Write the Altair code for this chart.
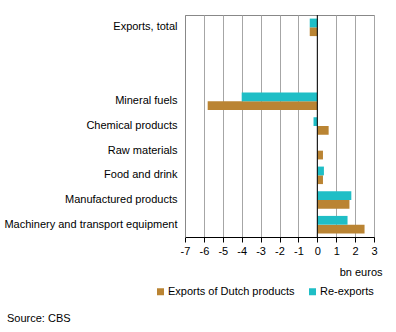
import altair as alt
import pandas as pd

categories = ["Exports, total", "_b1", "_b2", "Mineral fuels", "Chemical products",
              "Raw materials", "Food and drink", "Manufactured products",
              "Machinery and transport equipment"]
dutch = [-0.4, None, None, -5.8, 0.6, 0.3, 0.3, 1.7, 2.5]
reexports = [-0.4, None, None, -4.0, -0.2, 0.0, 0.35, 1.8, 1.6]
series = ["Exports of Dutch products", "Re-exports"]
colors = ["#BA8433", "#1FBEC6"]
ticks = [-7, -6, -5, -4, -3, -2, -1, 0, 1, 2, 3]

rows = []
for c, d, r in zip(categories, dutch, reexports):
    if d is not None:
        rows.append({"cat": c, "series": series[0], "value": d})
    if r is not None:
        rows.append({"cat": c, "series": series[1], "value": r})
df = pd.DataFrame(rows)

FONT = "Liberation Sans"

xscale = alt.Scale(domain=[-7, 3], nice=False, zero=False)
xaxis = alt.Axis(values=ticks, tickCount=11, labelExpr="'' + datum.value", labelOverlap=False,
                 labelFlush=False, grid=True, gridColor="#a6a6a6",
                 domainColor="#000000", tickColor="#000000", tickSize=5,
                 labelFontSize=11, labelPadding=3, labelColor="#000",
                 title="bn euros", titleFontWeight="normal", titleFontSize=11,
                 titleAlign="right", titleX=197, titleY=38, titleColor="#000",
                 titleBaseline="alphabetic")

bars = alt.Chart(df).mark_bar().encode(
    x=alt.X("value:Q", scale=xscale, axis=xaxis),
    y=alt.Y("cat:N", sort=categories,
            scale=alt.Scale(domain=categories, paddingInner=0.29, paddingOuter=0.145),
            axis=alt.Axis(title=None, ticks=False, domainColor="#888888",
                          labelExpr="indexof(datum.label,'_')==0 ? '' : datum.label",
                          labelFontSize=11, labelPadding=8, labelColor="#000", labelLimit=300)),
    yOffset=alt.YOffset("series:N", sort=[series[1], series[0]]),
    color=alt.Color("series:N",
                    scale=alt.Scale(domain=series, range=colors),
                    legend=alt.Legend(title=None, orient="none", direction="horizontal",
                                      legendX=-30, legendY=271, symbolType="square",
                                      symbolSize=49, symbolStrokeWidth=0, labelOffset=2,
                                      labelFontSize=11, labelColor="#000",
                                      columnPadding=12, symbolOpacity=1)),
)

zero = alt.Chart(pd.DataFrame({"z": [0]})).mark_rule(color="#000000", strokeWidth=1).encode(
    x=alt.X("z:Q", scale=xscale, axis=xaxis)
)

chart = alt.layer(bars, zero).properties(
    width=189, height=222,
    autosize=alt.AutoSizeParams(type="none"),
    padding={"left": 185, "top": 15, "right": 22, "bottom": 95},
    title=alt.TitleParams("Source: CBS", orient="bottom", anchor="start", frame="group",
                          dx=-178, offset=16, fontSize=11, fontWeight="normal", color="#000"),
).configure(font=FONT).configure_view(stroke="#888888", strokeWidth=1)

chart.save("out.html", embed_options={"renderer": "svg", "actions": False})
